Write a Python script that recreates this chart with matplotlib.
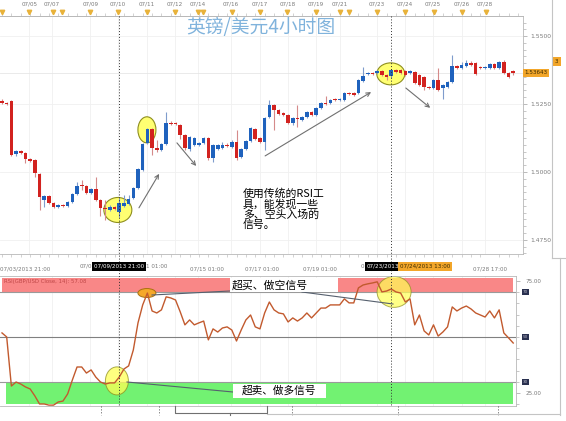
import numpy as np
import matplotlib
matplotlib.use("Agg")
import matplotlib.pyplot as plt
from matplotlib.patches import Rectangle, Ellipse
from matplotlib.ticker import MultipleLocator
from matplotlib.transforms import blended_transform_factory

W, H = 566, 421
CJK = ['Noto Sans CJK SC', 'DejaVu Sans']
plt.rcParams['font.family'] = ['DejaVu Sans']

# ---------------- GBP/USD 4-hour candles ----------------
opens = [
    1.5261, 1.5254, 1.5261, 1.5066, 1.5077, 1.5070, 1.5048, 1.5044, 1.4993, 1.4897,
    1.4912, 1.4886, 1.4871, 1.4879, 1.4875, 1.4890, 1.4919, 1.4952, 1.4948, 1.4923,
    1.4937, 1.4897, 1.4868, 1.4860, 1.4871, 1.4853, 1.4875, 1.4882, 1.4904, 1.4941,
    1.5007, 1.5107, 1.5158, 1.5088, 1.5081, 1.5103, 1.5180, 1.5180, 1.5173, 1.5136,
    1.5085, 1.5099, 1.5099, 1.5107, 1.5125, 1.5052, 1.5085, 1.5088, 1.5099, 1.5092,
    1.5110, 1.5055, 1.5085, 1.5114, 1.5158, 1.5125, 1.5110, 1.5202, 1.5247, 1.5228,
    1.5217, 1.5210, 1.5180, 1.5199, 1.5191, 1.5202, 1.5221, 1.5210, 1.5236, 1.5254,
    1.5254, 1.5269, 1.5265, 1.5265, 1.5291, 1.5291, 1.5291, 1.5335, 1.5361, 1.5364,
    1.5364, 1.5372, 1.5357, 1.5353, 1.5375, 1.5375, 1.5372, 1.5364, 1.5368, 1.5357,
    1.5350, 1.5313, 1.5309, 1.5339, 1.5309, 1.5313, 1.5331, 1.5390, 1.5383, 1.5390,
    1.5401, 1.5401, 1.5386, 1.5383, 1.5383, 1.5397, 1.5383, 1.5405, 1.5364, 1.5372]
closes = [
    1.5254, 1.5250, 1.5063, 1.5077, 1.5070, 1.5048, 1.5040, 1.4996, 1.4908, 1.4912,
    1.4886, 1.4871, 1.4879, 1.4875, 1.4890, 1.4919, 1.4948, 1.4948, 1.4923, 1.4937,
    1.4897, 1.4868, 1.4864, 1.4871, 1.4864, 1.4886, 1.4886, 1.4901, 1.4941, 1.5011,
    1.5103, 1.5158, 1.5088, 1.5081, 1.5103, 1.5180, 1.5177, 1.5177, 1.5136, 1.5088,
    1.5129, 1.5125, 1.5107, 1.5125, 1.5052, 1.5099, 1.5099, 1.5099, 1.5096, 1.5110,
    1.5052, 1.5085, 1.5114, 1.5162, 1.5121, 1.5110, 1.5199, 1.5247, 1.5228, 1.5213,
    1.5210, 1.5180, 1.5199, 1.5195, 1.5202, 1.5221, 1.5210, 1.5236, 1.5254, 1.5250,
    1.5265, 1.5265, 1.5269, 1.5291, 1.5287, 1.5283, 1.5339, 1.5353, 1.5364, 1.5361,
    1.5372, 1.5357, 1.5350, 1.5375, 1.5368, 1.5364, 1.5357, 1.5372, 1.5328, 1.5320,
    1.5313, 1.5309, 1.5339, 1.5302, 1.5320, 1.5331, 1.5390, 1.5383, 1.5394, 1.5401,
    1.5394, 1.5361, 1.5383, 1.5386, 1.5397, 1.5383, 1.5405, 1.5364, 1.5350, 1.53643]
highs = [
    1.5269, 1.5258, 1.5265, 1.5081, 1.5081, 1.5074, 1.5052, 1.5048, 1.4996, 1.4915,
    1.4915, 1.4890, 1.4882, 1.4882, 1.4893, 1.4923, 1.4963, 1.4971, 1.4952, 1.4941,
    1.4982, 1.4901, 1.4897, 1.4879, 1.4875, 1.4904, 1.4915, 1.4915, 1.4945, 1.5015,
    1.5107, 1.5162, 1.5162, 1.5118, 1.5107, 1.5221, 1.5188, 1.5184, 1.5177, 1.5140,
    1.5132, 1.5129, 1.5110, 1.5129, 1.5129, 1.5103, 1.5103, 1.5110, 1.5107, 1.5118,
    1.5155, 1.5088, 1.5118, 1.5166, 1.5162, 1.5129, 1.5202, 1.5265, 1.5250, 1.5232,
    1.5221, 1.5213, 1.5202, 1.5247, 1.5206, 1.5224, 1.5224, 1.5239, 1.5258, 1.5280,
    1.5269, 1.5272, 1.5272, 1.5294, 1.5294, 1.5294, 1.5342, 1.5386, 1.5368, 1.5368,
    1.5375, 1.5375, 1.5361, 1.5379, 1.5379, 1.5379, 1.5375, 1.5375, 1.5372, 1.5361,
    1.5353, 1.5316, 1.5342, 1.5383, 1.5324, 1.5335, 1.5431, 1.5394, 1.5405, 1.5412,
    1.5408, 1.5405, 1.5390, 1.5390, 1.5401, 1.5401, 1.5408, 1.5412, 1.5368, 1.5375]
lows = [
    1.5250, 1.5247, 1.5059, 1.5059, 1.5066, 1.5033, 1.5037, 1.4982, 1.4860, 1.4871,
    1.4882, 1.4868, 1.4868, 1.4871, 1.4871, 1.4886, 1.4915, 1.4934, 1.4919, 1.4919,
    1.4893, 1.4838, 1.4823, 1.4857, 1.4860, 1.4834, 1.4871, 1.4879, 1.4901, 1.4937,
    1.5004, 1.5103, 1.5063, 1.5074, 1.5077, 1.5099, 1.5173, 1.5173, 1.5121, 1.5081,
    1.5077, 1.5096, 1.5096, 1.5103, 1.5044, 1.5037, 1.5081, 1.5085, 1.5092, 1.5088,
    1.5044, 1.5052, 1.5081, 1.5110, 1.5118, 1.5107, 1.5081, 1.5199, 1.5155, 1.5210,
    1.5206, 1.5177, 1.5173, 1.5166, 1.5188, 1.5199, 1.5206, 1.5206, 1.5232, 1.5247,
    1.5250, 1.5261, 1.5261, 1.5261, 1.5283, 1.5280, 1.5287, 1.5331, 1.5357, 1.5357,
    1.5361, 1.5353, 1.5339, 1.5346, 1.5364, 1.5361, 1.5353, 1.5361, 1.5324, 1.5316,
    1.5302, 1.5305, 1.5305, 1.5298, 1.5269, 1.5309, 1.5328, 1.5379, 1.5379, 1.5386,
    1.5390, 1.5357, 1.5379, 1.5379, 1.5379, 1.5379, 1.5379, 1.5361, 1.5346, 1.5357]

# RSI(14) on close
rsi = [
    51.8, 50.0, 28.1, 29.9, 29.0, 27.7, 26.8, 23.7, 20.1, 20.1,
    19.6, 19.6, 21.0, 21.4, 24.6, 30.8, 36.6, 36.6, 33.9, 35.3,
    32.1, 29.9, 29.0, 29.5, 29.5, 32.1, 35.7, 37.1, 44.2, 56.3,
    64.3, 69.6, 61.6, 60.7, 62.1, 67.9, 67.4, 66.5, 61.2, 55.4,
    57.6, 55.4, 56.3, 57.1, 48.7, 53.6, 52.2, 54.0, 54.5, 53.1,
    48.2, 53.1, 57.6, 59.8, 54.5, 53.6, 60.7, 65.6, 62.1, 60.7,
    60.3, 56.7, 58.5, 57.1, 58.5, 60.7, 58.5, 60.7, 62.9, 62.9,
    64.3, 64.3, 64.3, 67.0, 65.2, 65.2, 71.9, 73.2, 73.7, 74.1,
    74.6, 70.1, 70.5, 71.4, 70.1, 69.6, 65.6, 67.0, 55.4, 59.8,
    52.7, 50.9, 55.4, 50.4, 52.2, 54.5, 63.4, 61.6, 62.9, 63.8,
    62.5, 60.7, 59.8, 58.9, 61.6, 58.5, 62.1, 51.8, 49.6, 47.3]

# axis labelling (positions in candle-index units)
top_dates = ['07/05', '07/07', '07/09', '07/10', '07/11', '07/12', '07/14', '07/16',
             '07/17', '07/18', '07/19', '07/21', '07/23', '07/24', '07/25', '07/26', '07/28']
top_date_pos = [5.8, 10.7, 18.8, 24.7, 30.9, 36.9, 41.8, 48.8,
                55.0, 61.0, 66.9, 72.1, 80.0, 85.9, 91.9, 98.1, 103.0]
event_pos = [0, 5.8, 10.9, 12.8, 18.8, 24.7, 30.9, 36.9, 41.8, 42.9, 49.0,
             55.0, 60.8, 66.9, 72.1, 74.0, 80.0, 85.9, 92.1, 98.1, 103.2]
time_labels = ['07/03/2013 21:00', '07/15 01:00', '07/17 01:00', '07/19 01:00',
               '07/28 17:00']
time_label_pos = [4.9, 43.7, 55.4, 67.8, 104.0]
price_ticks = [1.475, 1.500, 1.525, 1.550]
cursor_a, cursor_b = 25, 83          # highlighted bars
ob_level, os_level = 70, 30

BLUE, RED = '#1f62bd', '#d2221f'
GRAY_TXT = '#7a7a7a'
SPINE = '#b8b8b8'

o = np.array(opens); c = np.array(closes)
hi = np.array(highs); lo = np.array(lows)
n = len(o)
idx = np.arange(n)

STEP, X0 = 4.69, 2.0   # pixels per bar, first bar offset

fig = plt.figure(figsize=(W / 100, H / 100), dpi=100, facecolor='white')

# ---------------- price panel ----------------
ax = fig.add_axes([0, (H - 254) / H, 523 / W, 238 / H])
ax.set_xlim(-X0 / STEP, (523 - X0) / STEP)
ax.set_ylim(1.4698, 1.5574)
for p in top_date_pos:
    ax.axvline(p, color='#f0f0f0', lw=0.6, zorder=0)
for p in price_ticks:
    ax.axhline(p, color='#f0f0f0', lw=0.6, zorder=0)
ax.axhline(c[-1], color='#e6e6e6', lw=0.6, zorder=0)

up = c >= o
min_h = 0.00035
body_h = np.maximum(np.abs(c - o), min_h)
body_lo = (o + c) / 2 - body_h / 2
ax.vlines(idx, lo, hi, colors=np.where(up, '#7f9ccc', '#d58a8a'), lw=0.8, zorder=2)
ax.bar(idx, body_h, bottom=body_lo, width=0.76, color=np.where(up, BLUE, RED),
       linewidth=0, zorder=3)

# highlighted regions
ell_kw = dict(fc='#ffff72', ec='#8e8e1e', lw=0.8, zorder=1)
ax.add_patch(Ellipse((24.7, 1.4860), 5.97, 0.0092, **ell_kw))
ax.add_patch(Ellipse((30.9, 1.5155), 3.84, 0.0096, **ell_kw))
ax.add_patch(Ellipse((82.9, 1.5361), 5.97, 0.0081, **ell_kw))

arr = dict(arrowstyle='->', color='#707070', lw=0.8, mutation_scale=7,
           shrinkA=0, shrinkB=0)
ax.annotate('', xy=(33.5, 1.4993), xytext=(29.2, 1.4868), arrowprops=arr, zorder=4)
ax.annotate('', xy=(41.4, 1.5022), xytext=(37.3, 1.5107), arrowprops=arr, zorder=4)
ax.annotate('', xy=(78.7, 1.5294), xytext=(56.1, 1.5059), arrowprops=arr, zorder=4)
ax.annotate('', xy=(91.3, 1.5236), xytext=(86.1, 1.5309), arrowprops=arr, zorder=4)

ax.yaxis.tick_right()
ax.set_yticks(price_ticks, [f'{p:.4f}' for p in price_ticks])
ax.yaxis.set_minor_locator(MultipleLocator(0.0025))
ax.tick_params(axis='y', which='major', length=3, width=0.5, color='#a0a0a0',
               labelsize=4.3, labelcolor=GRAY_TXT, pad=2)
ax.tick_params(axis='y', which='minor', length=2, width=0.5, color='#b0b0b0')
ax.set_xticks(time_label_pos, time_labels)
ax.xaxis.set_minor_locator(MultipleLocator(2))
ax.tick_params(axis='x', which='major', length=0, pad=9, labelsize=4.1,
               labelcolor=GRAY_TXT)
ax.tick_params(axis='x', which='minor', length=2, width=0.5, color='#c0c0c0',
               top=True, bottom=True)
for s in ('top', 'right', 'bottom'):
    ax.spines[s].set_color(SPINE)
    ax.spines[s].set_linewidth(0.6)
ax.spines['left'].set_visible(False)

sec = ax.secondary_xaxis('top')
sec.set_xticks(top_date_pos, top_dates)
sec.tick_params(length=0, pad=7, labelsize=4.1, labelcolor=GRAY_TXT)
sec.spines['top'].set_color(SPINE)
sec.spines['top'].set_linewidth(0.6)
ax.plot(event_pos, [1.017] * len(event_pos), 'v', ms=3.2, color='#e8b23a',
        transform=ax.get_xaxis_transform(), clip_on=False, zorder=5)

bt = blended_transform_factory(ax.transAxes, ax.transData)
ax.text(1.003, c[-1], f'{c[-1]:.5f}', transform=bt, fontsize=4.1, color='#3a2a00',
        va='center', ha='left', bbox=dict(fc='#f2a62a', ec='none', pad=1.2))

# ---------------- RSI panel ----------------
ar = fig.add_axes([0, (H - 406) / H, 516 / W, 130 / H])
ar.set_xlim(-X0 / STEP, (516 - X0) / STEP)
ar.set_ylim(19.2, 77.2)
for p in top_date_pos:
    ar.axvline(p, color='#f0f0f0', lw=0.6, zorder=0)
ar.axhspan(ob_level, 76.3, xmin=2 / 516, xmax=513 / 516, color='#f98787', lw=0, zorder=0.5)
ar.axhspan(20, os_level, xmin=6 / 516, xmax=513 / 516, color='#72f272', lw=0, zorder=0.5)
ar.axhline(ob_level, color='#9a9a9a', lw=0.8, zorder=1)
ar.axhline(os_level, color='#9a9a9a', lw=0.8, zorder=1)
ar.axhline(50, color='#808080', lw=0.8, zorder=1)

ar.add_patch(Ellipse((30.9, 69.6), 3.84, 4.0, fc='#f5a82a', ec='#a87010', lw=0.7,
                     zorder=2))
ar.add_patch(Ellipse((24.5, 30.4), 4.9, 12.5, fc='#ffff55', ec='#8e8e1e', lw=0.7,
                     alpha=0.75, zorder=2))
ar.add_patch(Ellipse((83.6, 70.1), 7.25, 13.8, fc='#ffff55', ec='#8e8e1e', lw=0.7,
                     alpha=0.7, zorder=2))

ar.plot(idx, rsi, color='#c25a2e', lw=1.0, zorder=3)
ar.text(0.008, 76.0, 'RSI(GBP/USD Close, 14): 57.08', transform=blended_transform_factory(
    ar.transAxes, ar.transData), fontsize=3.9, color='#c04848', va='top', ha='left')

ar.yaxis.tick_right()
ar.set_yticks([25, 75], ['25.00', '75.00'])
ar.yaxis.set_minor_locator(MultipleLocator(5))
ar.tick_params(axis='y', which='major', length=3, width=0.5, color='#a0a0a0',
               labelsize=4.1, labelcolor=GRAY_TXT, pad=4)
ar.tick_params(axis='y', which='minor', length=2, width=0.5, color='#b0b0b0')
ar.set_xticks([])
for s in ('top', 'right', 'bottom'):
    ar.spines[s].set_color(SPINE)
    ar.spines[s].set_linewidth(0.6)
ar.spines['left'].set_visible(False)
rt = blended_transform_factory(ar.transAxes, ar.transData)
for lvl in (ob_level, 50, os_level):
    ar.text(1.013, lvl, str(lvl), transform=rt, fontsize=3, color='#b8b8c8',
            va='center', ha='left', bbox=dict(fc='#2a3150', ec='none', pad=0.8))

# ---------------- overlay: crosshairs, captions, frame ----------------
ov = fig.add_axes([0, 0, 1, 1], zorder=5)
ov.set_xlim(0, W)
ov.set_ylim(H, 0)
ov.axis('off')
ov.patch.set_alpha(0)

for bar_i in (cursor_a, cursor_b):
    xp = X0 + STEP * bar_i
    ov.plot([xp, xp], [16, 406], color='#303030', lw=0.7, ls=(0, (1, 2)))
for xp in (101, 159, 292, 398, 498):
    ov.plot([xp, xp], [406, 415], color='#505050', lw=0.7, ls=(0, (1, 2)))

# time-axis fragments partly hidden by the cursor boxes
ov.text(92, 266.5, '07/0', fontsize=4.1, color=GRAY_TXT, ha='right', va='center')
ov.text(146.5, 266.5, '1 01:00', fontsize=4.1, color=GRAY_TXT, ha='left', va='center')
ov.text(364.5, 266.5, '0', fontsize=4.1, color=GRAY_TXT, ha='right', va='center')

ov.text(X0 + STEP * cursor_a, 266.5, '07/09/2013 21:00', fontsize=4.1, color='white',
        ha='center', va='center', bbox=dict(fc='black', ec='none', pad=1.4), zorder=6)
ov.text(367, 266.5, '07/23/2013', fontsize=4.1, color='white',
        ha='left', va='center', bbox=dict(fc='black', ec='none', pad=1.4), zorder=6)
ov.text(400, 266.5, '07/24/2013 13:00', fontsize=4.1, color='#3a2a00',
        ha='left', va='center', bbox=dict(fc='#f2a62a', ec='none', pad=1.4), zorder=7)

ov.text(186, 28, '英镑/美元4小时图', fontsize=13.5, color='#80b3dc', family=CJK,
        weight='light', ha='left', va='center')
ov.text(243, 188, '使用传统的RSI工\n具，能发现一些\n多、空头入场的\n信号。', fontsize=7.8,
        family=CJK, color='black', ha='left', va='top', linespacing=1.02)

ov.add_patch(Rectangle((230, 278), 108, 14, fc='white', ec='none', zorder=3))
ov.text(232, 285, '超买、做空信号', fontsize=7.8, family=CJK, color='black',
        ha='left', va='center', zorder=4)
ov.add_patch(Rectangle((233, 384), 93, 13.5, fc='white', ec='none', zorder=3))
ov.text(242, 390.5, '超卖、做多信号', fontsize=7.7, family=CJK, color='black',
        ha='left', va='center', zorder=4)
line_kw = dict(color='#56606e', lw=0.8)
ov.plot([152, 230], [295, 291], **line_kw)
ov.plot([302, 393], [292, 304], **line_kw)
ov.plot([127, 233], [382, 392], **line_kw)

frame = dict(color='#c4c4c4', lw=0.8)
ov.plot([552, 552], [0, 258], **frame)
ov.plot([552, 566], [258, 258], **frame)
ov.plot([560, 560], [258, 415], **frame)
ov.plot([267, 560], [414, 414], **frame)
ov.plot([175, 175, 267, 267], [406, 412.5, 412.5, 406], color='#707070', lw=0.8)
ov.plot([230, 230], [412.5, 415], color='#707070', lw=0.8)
ov.add_patch(Rectangle((553, 57), 8, 9, fc='#f2a62a', ec='none'))
ov.text(555, 61.5, '3', fontsize=4, color='#3a2a00', ha='left', va='center')

fig.savefig('out.png', dpi=100, facecolor='white')
